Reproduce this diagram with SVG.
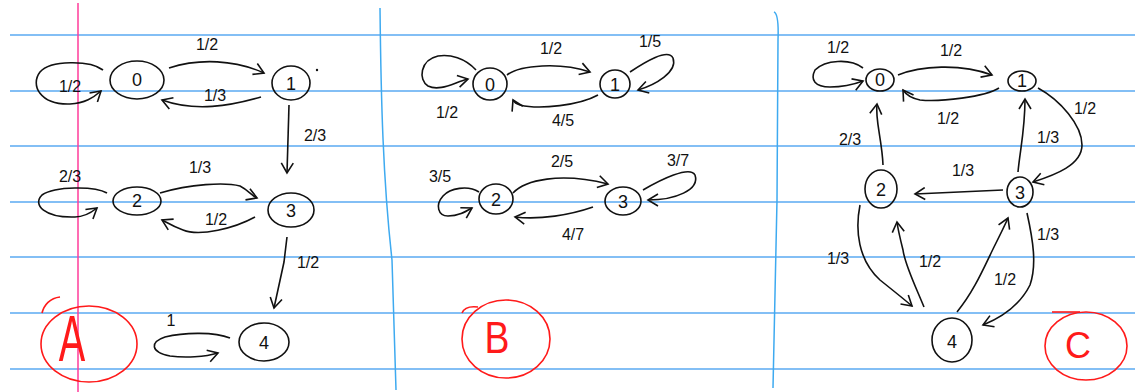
<svg xmlns="http://www.w3.org/2000/svg" width="1135" height="392" viewBox="0 0 1135 392">
<style>
.paper{fill:#ffffff}
.rule{stroke:#5aaaf2;stroke-width:1.5;fill:none}
.margin{stroke:#ff3b9a;stroke-width:1.5;fill:none}
.sep{stroke:#3eaaf0;stroke-width:1.5;fill:none}
.nd{fill:none;stroke:#111;stroke-width:1.6}
.ed{fill:none;stroke:#111;stroke-width:1.6;marker-end:url(#arr)}
.lbl{font-family:"Liberation Sans",Arial,sans-serif;font-size:16px;fill:#111;text-anchor:middle}
.nt{font-family:"Liberation Sans",Arial,sans-serif;font-size:18px;fill:#111;text-anchor:middle}
.red{fill:none;stroke:#ff1a1a;stroke-width:1.6}
.rt{font-family:"Liberation Sans",Arial,sans-serif;fill:#ff1a1a;text-anchor:middle}
</style>
<defs>
<marker id="arr" markerUnits="userSpaceOnUse" markerWidth="14" markerHeight="14" refX="11" refY="7" orient="auto">
<path d="M1,1 L11,7 L1,13" fill="none" stroke="#111" stroke-width="1.6"/>
</marker>
</defs>
<rect class="paper" x="0" y="0" width="1135" height="392"/>
<g id="paper-lines">
<line class="rule" x1="10" y1="35" x2="1135" y2="35"/>
<line class="rule" x1="10" y1="91" x2="1135" y2="91"/>
<line class="rule" x1="10" y1="146" x2="1135" y2="146"/>
<line class="rule" x1="10" y1="202" x2="1135" y2="202"/>
<line class="rule" x1="10" y1="257" x2="1135" y2="257"/>
<line class="rule" x1="10" y1="313" x2="1135" y2="313"/>
<line class="rule" x1="10" y1="369" x2="1135" y2="369"/>
<line class="margin" x1="78" y1="3" x2="78" y2="392"/>
<path class="sep" d="M380,8 C381,100 383,180 392,260 L396,390"/>
<path class="sep" d="M774,12 Q779,14 778,40 L777,200 L773,388"/>
</g>
<g id="connectors">
<!-- Panel A -->
<path class="ed" d="M103,70 C90,60 50,60 40,72 C30,85 40,105 70,104 C85,103 93,98 101,91"/>
<path class="ed" d="M169,68 C200,58 235,60 264,73"/>
<path class="ed" d="M261,97 C230,106 195,112 162,100"/>
<path class="ed" d="M289,105 L287,173"/>
<path class="ed" d="M107,193 C95,186 55,186 42,195 C32,205 45,218 75,217 C85,217 92,212 97,208"/>
<path class="ed" d="M160,193 C190,184 225,182 240,186 C248,190 252,196 257,198"/>
<path class="ed" d="M255,217 C235,228 200,237 183,230 C172,226 166,222 162,220"/>
<path class="ed" d="M287,237 L284,262 L274,308"/>
<path class="ed" d="M230,338 C215,332 185,332 165,337 C150,342 150,352 170,356 C185,358 205,357 218,353"/>
<!-- Panel B -->
<path class="ed" d="M476,70 C465,58 450,54 438,56 C420,60 418,80 428,86 C440,92 455,82 468,79"/>
<path class="ed" d="M507,75 C520,65 560,62 590,72"/>
<path class="ed" d="M630,72 C645,62 668,48 673,58 C678,72 655,85 638,90"/>
<path class="ed" d="M598,95 C580,105 540,110 520,105 C516,104 514,102 513,100"/>
<path class="ed" d="M479,192 C468,185 450,188 443,196 C435,205 438,216 448,216 C458,216 465,212 472,208"/>
<path class="ed" d="M513,193 C525,180 560,172 608,184"/>
<path class="ed" d="M643,190 C660,180 690,165 695,175 C700,190 675,200 648,200"/>
<path class="ed" d="M593,207 C570,215 540,220 515,217"/>
<!-- Panel C -->
<path class="ed" d="M863,68 C850,58 825,60 815,70 C810,80 815,87 830,87 C845,87 855,84 863,81"/>
<path class="ed" d="M898,75 C920,66 960,63 992,75"/>
<path class="ed" d="M999,88 C985,97 940,102 920,100 C910,98 905,93 903,90"/>
<path class="ed" d="M1038,88 C1060,100 1082,125 1082,145 C1082,165 1055,175 1033,182"/>
<path class="ed" d="M883,165 C882,140 875,120 877,104"/>
<path class="ed" d="M1018,172 C1020,150 1025,130 1025,99"/>
<path class="ed" d="M1003,190 L915,194"/>
<path class="ed" d="M860,205 C855,230 858,260 880,280 C895,292 905,300 912,306"/>
<path class="ed" d="M924,307 C915,285 905,265 903,250 C900,238 898,230 897,222"/>
<path class="ed" d="M957,312 C975,290 985,265 995,245 C1000,235 1005,225 1008,218"/>
<path class="ed" d="M1027,213 C1033,240 1037,265 1030,285 C1020,305 1000,318 983,325"/>
</g>
<g id="edge-labels">
<text class="lbl" x="70" y="92">1/2</text>
<text class="lbl" x="207" y="50">1/2</text>
<text class="lbl" x="215" y="101">1/3</text>
<text class="lbl" x="315" y="141">2/3</text>
<text class="lbl" x="70" y="182">2/3</text>
<text class="lbl" x="200" y="173">1/3</text>
<text class="lbl" x="216" y="225">1/2</text>
<text class="lbl" x="308" y="268">1/2</text>
<text class="lbl" x="171" y="326">1</text>
<text class="lbl" x="447" y="118">1/2</text>
<text class="lbl" x="551" y="54">1/2</text>
<text class="lbl" x="650" y="47">1/5</text>
<text class="lbl" x="563" y="126">4/5</text>
<text class="lbl" x="440" y="182">3/5</text>
<text class="lbl" x="562" y="167">2/5</text>
<text class="lbl" x="678" y="166">3/7</text>
<text class="lbl" x="573" y="240">4/7</text>
<text class="lbl" x="838" y="53">1/2</text>
<text class="lbl" x="951" y="56">1/2</text>
<text class="lbl" x="948" y="124">1/2</text>
<text class="lbl" x="1085" y="114">1/2</text>
<text class="lbl" x="850" y="145">2/3</text>
<text class="lbl" x="1048" y="143">1/3</text>
<text class="lbl" x="963" y="176">1/3</text>
<text class="lbl" x="838" y="264">1/3</text>
<text class="lbl" x="930" y="267">1/2</text>
<text class="lbl" x="1005" y="285">1/2</text>
<text class="lbl" x="1048" y="240">1/3</text>
</g>
<g id="A0"><ellipse class="nd" cx="137" cy="80" rx="27" ry="19"/><text class="nt" x="137" y="86">0</text></g>
<g id="A1"><ellipse class="nd" cx="291" cy="83" rx="19" ry="17"/><text class="nt" x="291" y="90">1</text></g>
<circle cx="317" cy="70" r="1.2" fill="#111"/>
<g id="A2"><ellipse class="nd" cx="137" cy="201" rx="24" ry="14"/><text class="nt" x="137" y="207">2</text></g>
<g id="A3"><ellipse class="nd" cx="291" cy="210" rx="23" ry="17"/><text class="nt" x="291" y="217">3</text></g>
<g id="A4"><ellipse class="nd" cx="264" cy="342" rx="25" ry="19"/><text class="nt" x="264" y="349">4</text></g>
<g id="labelA"><ellipse class="red" cx="89" cy="344" rx="48" ry="38"/><path class="red" d="M42,313 C44,305 50,298 60,297"/><text class="rt" x="0" y="0" font-size="64" transform="translate(72,361) scale(0.62,1)">A</text></g>
<g id="B0"><ellipse class="nd" cx="490" cy="84" rx="17" ry="16"/><text class="nt" x="490" y="91">0</text></g>
<g id="B1"><ellipse class="nd" cx="615" cy="84" rx="15" ry="14"/><text class="nt" x="615" y="91">1</text></g>
<g id="B2"><ellipse class="nd" cx="496" cy="199" rx="17" ry="15"/><text class="nt" x="496" y="206">2</text></g>
<g id="B3"><ellipse class="nd" cx="623" cy="201" rx="18" ry="14"/><text class="nt" x="623" y="208">3</text></g>
<g id="labelB"><ellipse class="red" cx="506" cy="339" rx="44" ry="39"/><path class="red" d="M462,313 C464,308 470,306 478,307"/><text class="rt" x="0" y="0" font-size="44" transform="translate(497,353) scale(0.85,1)">B</text></g>
<g id="C0"><ellipse class="nd" cx="880" cy="80" rx="14" ry="11"/><text class="nt" x="880" y="86">0</text></g>
<g id="C1"><ellipse class="nd" cx="1022" cy="81" rx="14" ry="10"/><text class="nt" x="1022" y="87">1</text></g>
<g id="C2"><ellipse class="nd" cx="881" cy="189" rx="16" ry="19"/><text class="nt" x="881" y="196">2</text></g>
<g id="C3"><ellipse class="nd" cx="1020" cy="192" rx="13" ry="15"/><text class="nt" x="1020" y="199">3</text></g>
<g id="C4"><ellipse class="nd" cx="952" cy="340" rx="20" ry="22"/><text class="nt" x="952" y="348" font-size="22">4</text></g>
<g id="labelC"><ellipse class="red" cx="1086" cy="346" rx="41" ry="34"/><path class="red" d="M1052,312 L1080,312"/><text class="rt" x="0" y="0" font-size="36" transform="translate(1078,358)">C</text></g>
</svg>
